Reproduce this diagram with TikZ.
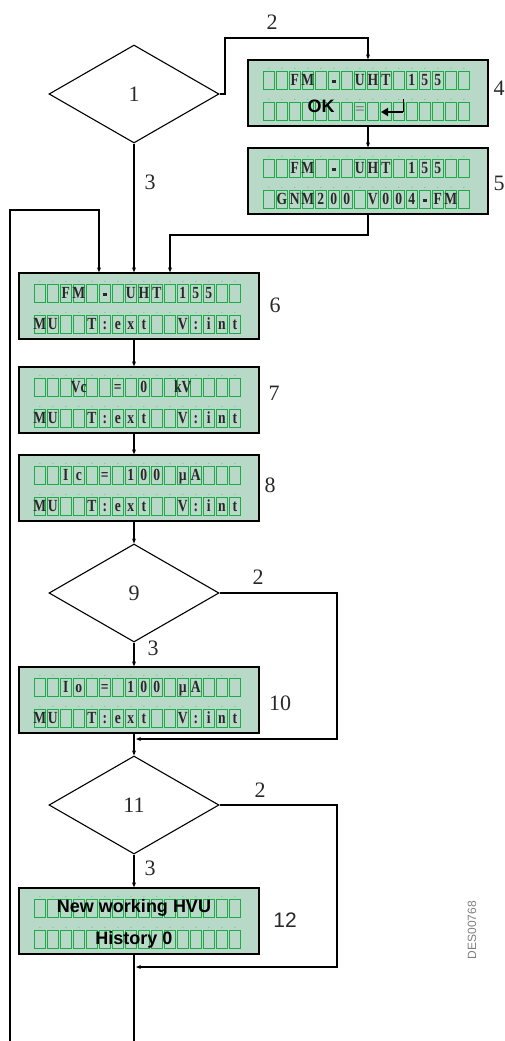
\documentclass[tikz,border=0pt]{standalone}
\usepackage{fontspec}
\setmainfont{Liberation Serif}
\newfontfamily\sansf{Liberation Sans}
\usetikzlibrary{shapes.geometric,arrows.meta,calc}
\definecolor{lcdfill}{RGB}{184,216,200}
\definecolor{lcdgreen}{RGB}{30,170,70}
\definecolor{dotgreen}{RGB}{110,200,140}
\definecolor{txtgray}{RGB}{40,40,40}
\tikzset{
  conn/.style={line width=1.1pt, draw=black},
  arr/.style={conn, -{Stealth[length=5pt,width=4pt]}},
  lcd/.style={draw=black, line width=1.3pt, fill=lcdfill, minimum width=240pt, minimum height=66pt, inner sep=0pt},
  dec/.style={diamond, draw=black, line width=1.1pt, minimum width=170pt, minimum height=98pt, inner sep=0pt, font=\fontsize{22}{22}\selectfont, text=txtgray},
  num/.style={font=\fontsize{22}{22}\selectfont, text=txtgray, inner sep=0pt},
  cellch/.style={font=\fontsize{17}{17}\selectfont\bfseries, text=txtgray, inner sep=0pt, text height=11pt, text depth=0pt},
  cell/.style={draw=lcdgreen, line width=1pt},
  bigsans/.style={font=\sansf\bfseries\fontsize{17}{17}\selectfont, text=black, inner sep=0pt},
}
\newcommand{\lcddash}{\rule[3pt]{5.5pt}{2.6pt}}
\newcommand{\lcdcells}[1]{%
  \foreach \ry in {12,43}{
    \foreach \i in {1,...,16}{
      \draw[cell] ($(#1.north west)+(15+13*\i-13+0.8,\ry)$) rectangle ($(#1.north west)+(15+13*\i-0.8,\ry+18)$);
      \fill[dotgreen] ($(#1.north west)+(15+13*\i-6.5,\ry-3)$) circle (0.7pt);
    }
  }
}
\newcommand{\lcdtext}[3]{%
  \foreach \ch [count=\i] in {#3}{
    \node[cellch] at ($(#1.north west)+(15+13*\i-6.5,#2)$) {\scalebox{0.8}[1]{\ch}};
  }
}
\begin{document}
\begin{tikzpicture}[x=1pt,y=-1pt]
\useasboundingbox (0,0) rectangle (505,1041);

% decisions
\node[dec] (d1) at (134,94) {1};
\node[dec] (d9) at (134,593) {9};
\node[dec] (d11) at (134,805) {11};

% LCD boxes
\node[lcd] (b4) at (368,93) {};
\node[lcd] (b5) at (368,181) {};
\node[lcd] (b6) at (139,306) {};
\node[lcd] (b7) at (139,400) {};
\node[lcd] (b8) at (139,488) {};
\node[lcd] (b10) at (139,700) {};
\node[lcd] (b12) at (139,921) {};

\lcdcells{b4}\lcdcells{b5}\lcdcells{b6}\lcdcells{b7}\lcdcells{b8}\lcdcells{b10}\lcdcells{b12}

% box 4
\lcdtext{b4}{21}{{},{},F,M,{},\lcddash,{},U,H,T,{},1,5,5,{},{}}
\node[bigsans, font=\sansf\bfseries\fontsize{18}{18}\selectfont] (ok) at (321,106) {OK};
\node[cellch, text=gray] (eq4) at (360,109) {=};
\coordinate (ra1) at (403,99);
\coordinate (ra2) at (403,112);
\coordinate (ra3) at (381,112);
\draw[line width=1pt] (ra1) -- (ra2);
\draw[line width=1.8pt, -{Triangle[length=7pt,width=8pt]}] (ra2) -- (ra3);

% box 5
\lcdtext{b5}{21}{{},{},F,M,{},\lcddash,{},U,H,T,{},1,5,5,{},{}}
\lcdtext{b5}{52}{{},G,N,M,2,0,0,{},V,0,0,4,\lcddash,F,M,{}}

% box 6
\lcdtext{b6}{21}{{},{},F,M,{},\lcddash,{},U,H,T,{},1,5,5,{},{}}
\lcdtext{b6}{52}{M,U,{},{},T,:,e,x,t,{},{},V,:,i,n,t}

% box 7
\lcdtext{b7}{21}{{},{},{},Vc,{},{},=,{},0,{},{},kV,{},{},{},{}}
\lcdtext{b7}{52}{M,U,{},{},T,:,e,x,t,{},{},V,:,i,n,t}

% box 8
\lcdtext{b8}{21}{{},{},I,c,{},=,{},1,0,0,{},µ,A,{},{},{}}
\lcdtext{b8}{52}{M,U,{},{},T,:,e,x,t,{},{},V,:,i,n,t}

% box 10
\lcdtext{b10}{21}{{},{},I,o,{},=,{},1,0,0,{},µ,A,{},{},{}}
\lcdtext{b10}{52}{M,U,{},{},T,:,e,x,t,{},{},V,:,i,n,t}

% box 12
\node[bigsans, font=\sansf\bfseries\fontsize{18}{18}\selectfont] (nw) at (134,908) {New working HVU};
\node[bigsans, font=\sansf\bfseries\fontsize{18}{18}\selectfont] (hi) at (134,940) {History 0};

% number labels
\node[num] (n4) at (499,88) {4};
\node[num] (n5) at (499,183) {5};
\node[num] (n6) at (275,305) {6};
\node[num] (n7) at (274,393) {7};
\node[num] (n8) at (270,485) {8};
\node[num] (n10) at (280,703) {10};
\node[num, font=\sansf\fontsize{21}{21}\selectfont] (n12) at (285,920) {12};
\node[rotate=90, font=\sansf\fontsize{12}{12}\selectfont, text=gray, inner sep=0pt] (des) at (472,930) {DES00768};

% branch labels
\node[num] (l2a) at (272,22) {2};
\node[num] (l3a) at (150,182) {3};
\node[num] (l2b) at (258,577) {2};
\node[num] (l3b) at (153,648) {3};
\node[num] (l2c) at (260,790) {2};
\node[num] (l3c) at (150,868) {3};

% coordinates for routing
\coordinate (c1) at (225,38);
\coordinate (c2) at (170,235);
\coordinate (lb) at (10,1041);
\coordinate (lt) at (99,210);
\coordinate (r1) at (337,739);
\coordinate (m1) at (136,739);
\coordinate (r2) at (337,967);
\coordinate (m2) at (136,967);
\coordinate (end) at (134,1041);

% connectors
\draw[arr] (d1.east) -| (c1) -| (b4.north);
\draw[arr] (b4.south) -- (b5.north);
\draw[arr] (b5.south) |- (c2) -- (c2 |- b6.north);
\draw[arr] (d1.south) -- (d1.south |- b6.north);
\draw[arr] (lb) |- (lt) -- (lt |- b6.north);
\draw[arr] (d1.south |- b6.south) -- (d1.south |- b7.north);
\draw[arr] (d1.south |- b7.south) -- (d1.south |- b8.north);
\draw[arr] (d1.south |- b8.south) -- (d9.north);
\draw[arr] (d9.south) -- (d9.south |- b10.north);
\draw[arr] (d9.east) -| (r1) -- (m1);
\draw[arr] (d9.south |- b10.south) -- (d11.north);
\draw[arr] (d11.east) -| (r2) -- (m2);
\draw[arr] (d11.south) -- (d11.south |- b12.north);
\draw[conn] (d11.south |- b12.south) -- (end);
\end{tikzpicture}
\end{document}
